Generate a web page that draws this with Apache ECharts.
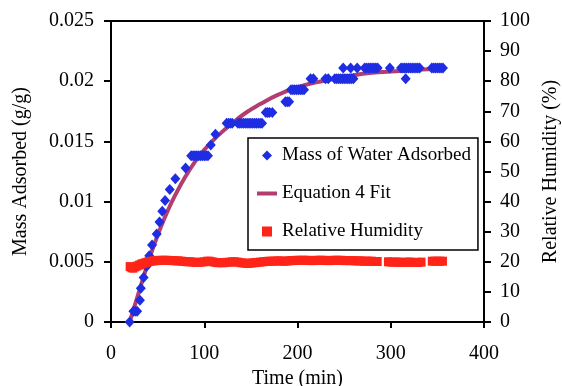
<!DOCTYPE html>
<html>
<head>
<meta charset="utf-8">
<script src="https://cdn.jsdelivr.net/npm/echarts@6/dist/echarts.min.js"></script>
<style>
  html, body { margin: 0; padding: 0; background: #fff; }
  #chart { width: 562px; height: 386px; }
</style>
</head>
<body>
<div id="chart"></div>
<script>
// mass of water adsorbed (g/g)
const massTimes = [20, 24, 26, 28, 31, 32, 35, 38, 41, 44, 49, 52, 55, 58, 63, 69, 80,
  86, 88, 90, 92, 94, 96, 98, 100, 102, 104, 107, 112,
  124, 126, 128, 130, 136, 138, 140, 142, 144, 146, 148, 150, 152, 154, 156, 158, 160, 162,
  166, 168, 170, 173, 187, 189, 191, 193, 195, 197, 199, 201, 203, 205, 207,
  214, 217, 230, 233, 240, 242, 244, 246, 248, 250, 252, 254, 256, 258, 260,
  249, 257, 264,
  272, 274, 276, 278, 280, 282, 284, 286, 299,
  311, 313, 315, 317, 319, 321, 323, 325, 327, 329, 331, 316,
  344, 346, 348, 350, 352, 354, 356];
const massValues = [0, 0.0009, 0.0009, 0.0009, 0.0018, 0.0028, 0.0037, 0.0046, 0.0055, 0.0064, 0.0073, 0.0083, 0.0092, 0.0101, 0.0110, 0.0119, 0.0128,
  0.0138, 0.0138, 0.0138, 0.0138, 0.0138, 0.0138, 0.0138, 0.0138, 0.0138, 0.0138, 0.0147, 0.0156,
  0.0165, 0.0165, 0.0165, 0.0165, 0.0165, 0.0165, 0.0165, 0.0165, 0.0165, 0.0165, 0.0165, 0.0165, 0.0165, 0.0165, 0.0165, 0.0165, 0.0165, 0.0165,
  0.0174, 0.0174, 0.0174, 0.0174, 0.0183, 0.0183, 0.0183, 0.0193, 0.0193, 0.0193, 0.0193, 0.0193, 0.0193, 0.0193, 0.0193,
  0.0202, 0.0202, 0.0202, 0.0202, 0.0202, 0.0202, 0.0202, 0.0202, 0.0202, 0.0202, 0.0202, 0.0202, 0.0202, 0.0202, 0.0202,
  0.0211, 0.0211, 0.0211,
  0.0211, 0.0211, 0.0211, 0.0211, 0.0211, 0.0211, 0.0211, 0.0211, 0.0211,
  0.0211, 0.0211, 0.0211, 0.0211, 0.0211, 0.0211, 0.0211, 0.0211, 0.0211, 0.0211, 0.0211, 0.0202,
  0.0211, 0.0211, 0.0211, 0.0211, 0.0211, 0.0211, 0.0211];

// equation 4 fit curve
const fitTimes = [20, 30, 40, 50, 60, 70, 80, 90, 100, 115, 130, 145, 160, 180, 200, 220, 240, 260, 280, 300, 320, 340, 356];
const fitValues = [0, 0.0025, 0.0050, 0.0072, 0.0091, 0.0107, 0.0121, 0.0133, 0.0143, 0.0155, 0.0165, 0.0174, 0.0181, 0.0189, 0.0195, 0.0199, 0.0202, 0.0205, 0.0207, 0.0208, 0.0209, 0.0210, 0.0210];

// relative humidity (%)
const rhTimes = [20, 22, 24, 26, 28, 30, 32, 34, 36, 38, 40, 43, 46, 49, 52, 55, 58, 61, 64, 67, 70, 73, 76, 79,
  82, 85, 88, 91, 94, 97, 100, 103, 106, 109, 112, 115, 118, 121, 124, 127, 130, 133, 136, 139,
  142, 145, 148, 151, 154, 157, 160, 163, 166, 169, 172, 175, 178, 181, 184, 187, 190, 193, 196, 199,
  202, 205, 208, 211, 214, 217, 220, 223, 226, 229, 232, 235, 238, 241, 244, 247, 250, 253, 256, 259,
  262, 265, 268, 271, 274, 277, 280, 283, 286,
  297, 300, 303, 306, 309, 312, 315, 318, 321, 324, 327, 330, 333,
  344, 347, 350, 353, 356];
const rhValues = [18.4, 18.0, 17.9, 18.3, 18.6, 18.9, 19.2, 19.4, 19.6, 19.8, 20.0, 20.2, 20.3, 20.4, 20.5, 20.5, 20.5, 20.5, 20.4, 20.4, 20.3, 20.3, 20.2, 20.1,
  20.0, 20.0, 19.9, 19.8, 19.8, 19.9, 20.0, 20.2, 20.2, 20.0, 19.8, 19.7, 19.7, 19.7, 19.8, 19.9, 20.0, 20.0, 19.9, 19.7,
  19.6, 19.5, 19.5, 19.6, 19.7, 19.8, 19.9, 20.0, 20.1, 20.2, 20.2, 20.2, 20.3, 20.3, 20.2, 20.2, 20.3, 20.4, 20.4, 20.5,
  20.5, 20.5, 20.5, 20.5, 20.4, 20.4, 20.5, 20.5, 20.5, 20.5, 20.4, 20.4, 20.5, 20.5, 20.5, 20.5, 20.4, 20.4, 20.4, 20.4,
  20.3, 20.3, 20.3, 20.2, 20.2, 20.2, 20.2, 20.1, 20.1,
  20.0, 19.9, 19.9, 19.9, 19.9, 19.8, 19.8, 19.9, 19.9, 19.8, 19.8, 19.8, 19.9,
  20.2, 20.2, 20.2, 20.2, 20.2];

const xTicks = [0, 100, 200, 300, 400];

const font = 'Liberation Serif';
const chart = echarts.init(document.getElementById('chart'), null, { renderer: 'canvas' });

const axisText = { color: '#000', fontFamily: font, fontSize: 20 };
const axisLine = { show: true, lineStyle: { color: '#000', width: 2 } };

const option = {
  animation: false,
  backgroundColor: '#fff',
  grid: {
    left: 111, right: 78, top: 21, bottom: 64,
    containLabel: false,
    outerBoundsMode: 'none',
    show: true,
    borderColor: '#000',
    borderWidth: 2,
  },
  legend: {
    orient: 'vertical',
    left: 248,
    top: 138,
    padding: [8, 7, 9, 9],
    itemGap: 19,
    itemWidth: 20,
    itemHeight: 10,
    symbolKeepAspect: true,
    borderColor: '#000',
    borderWidth: 1.5,
    backgroundColor: '#fff',
    textStyle: { color: '#000', fontFamily: font, fontSize: 19 },
    data: [
      { name: 'Mass of Water Adsorbed', icon: 'path://M5,0L10,5L5,10L0,5Z' },
      { name: 'Equation 4 Fit', icon: 'path://M0,0H20V4H0Z' },
      { name: 'Relative Humidity', icon: 'path://M0,0H10V10H0Z' },
    ],
  },
  xAxis: {
    type: 'value',
    min: xTicks[0],
    max: xTicks[xTicks.length - 1],
    interval: 100,
    name: 'Time (min)',
    nameLocation: 'middle',
    nameGap: 41,
    nameTextStyle: axisText,
    axisLine: axisLine,
    axisTick: { show: true, inside: false, length: 6, lineStyle: { color: '#000', width: 2 } },
    axisLabel: { ...axisText, margin: 22 },
    splitLine: { show: false },
  },
  yAxis: [
    {
      type: 'value',
      min: 0,
      max: 0.025,
      interval: 0.005,
      position: 'left',
      name: 'Mass Adsorbed (g/g)',
      nameLocation: 'middle',
      nameGap: 80,
      nameTextStyle: axisText,
      axisLine: axisLine,
      axisTick: { show: true, inside: false, length: 7, lineStyle: { color: '#000', width: 2 } },
      axisLabel: { ...axisText, margin: 17 },
      splitLine: { show: false },
    },
    {
      type: 'value',
      min: 0,
      max: 100,
      interval: 10,
      position: 'right',
      name: 'Relative Humidity (%)',
      nameLocation: 'middle',
      nameGap: 54,
      nameTextStyle: axisText,
      axisLine: axisLine,
      axisTick: { show: true, inside: false, length: 7, lineStyle: { color: '#000', width: 2 } },
      axisLabel: { ...axisText, margin: 16 },
      splitLine: { show: false },
    },
  ],
  series: [
    {
      name: 'Equation 4 Fit',
      type: 'line',
      yAxisIndex: 0,
      z: 2,
      symbol: 'none',
      smooth: true,
      data: fitTimes.map((t, i) => [t, fitValues[i]]),
      lineStyle: { color: '#b23d6e', width: 4 },
      itemStyle: { color: '#b23d6e' },
    },
    {
      name: 'Mass of Water Adsorbed',
      type: 'scatter',
      yAxisIndex: 0,
      z: 3,
      symbol: 'diamond',
      symbolSize: [10, 11],
      data: massTimes.map((t, i) => [t, massValues[i]]),
      itemStyle: { color: '#1f2de2', opacity: 1 },
    },
    {
      name: 'Relative Humidity',
      type: 'scatter',
      yAxisIndex: 1,
      z: 4,
      symbol: 'rect',
      symbolSize: [8, 9],
      data: rhTimes.map((t, i) => [t, rhValues[i]]),
      itemStyle: { color: '#ff2418', opacity: 1 },
    },
  ],
};

chart.setOption(option);
</script>
</body>
</html>
